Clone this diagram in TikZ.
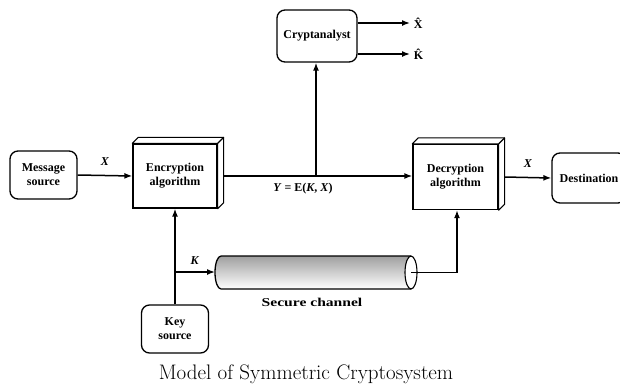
\documentclass[tikz,border=0pt]{standalone}
\usepackage{fontspec}
\newfontfamily\tms{Liberation Serif}
\usetikzlibrary{arrows.meta,calc}
\tikzset{
  lbl/.style={font=\tms\bfseries\fontsize{12}{14}\selectfont, align=center, inner sep=0pt},
  rbox/.style={draw, line width=1.3pt, rounded corners=8pt, fill=white, lbl},
  fbox/.style={draw, line width=1.3pt, fill=white, lbl},
  conn/.style={line width=1.5pt, -{Latex[length=8pt,width=6pt]}},
  wire/.style={line width=1.5pt},
}
\begin{document}
\begin{tikzpicture}[x=1pt,y=-1pt]
\useasboundingbox (0,0) rectangle (620,391);
\clip (0,0) rectangle (620,391);
\fill[white] (0,0) rectangle (620,391);

% nodes
\node[rbox, minimum width=80pt, minimum height=52pt] (crypt) at (317,36) {Cryptanalyst};
\node[rbox, minimum width=67pt, minimum height=48pt] (msg) at (43.5,175) {Message\\source};
\node[fbox, minimum width=84pt, minimum height=64pt] (enc) at (175,176) {Encryption\\algorithm};
\node[fbox, minimum width=85pt, minimum height=65pt] (dec) at (455.5,177) {Decryption\\algorithm};
\node[rbox, minimum width=74pt, minimum height=50pt] (dest) at (589,178) {Destination};
\node[rbox, minimum width=67pt, minimum height=48pt] (key) at (175,329) {Key\\source};

% 3D faces
\foreach \b in {enc,dec}{
  \draw[line width=1.1pt, fill=white, line join=round]
    (\b.north west) -- ++(6,-6) -- ($(\b.north east)+(6,-6)$) -- ($(\b.south east)+(6,-6)$) -- (\b.south east) -- (\b.north east) -- cycle;
  \draw[line width=1.1pt] (\b.north east) -- ++(6,-6);
}

% coordinates
\coordinate (j) at (316,176);
\coordinate (b) at (175,272);
\coordinate (tubeR) at (411,272.5);
\coordinate (c) at (457,272.5);
\coordinate (xh) at (410,23);
\coordinate (kh) at (410,54);

% tube (secure channel)
\shade[top color=gray!75, middle color=gray!25, bottom color=white]
  (221,256) arc[start angle=-90, end angle=-270, x radius=6, y radius=16.5]
  -- (411,289) arc[start angle=90, end angle=-90, x radius=6, y radius=16.5] -- cycle;
\draw[line width=1.3pt]
  (221,256) arc[start angle=-90, end angle=-270, x radius=6, y radius=16.5]
  (221,256) -- (411,256) (221,289) -- (411,289);
\draw[line width=1.1pt, fill=white] (tubeR) ellipse[x radius=6, y radius=16.5];
\coordinate (tubeL) at (215,272);

% connectors
\draw[conn] (msg.east) -- (enc.west) node[lbl, midway, above=9pt] {\textit{X}};
\draw[wire] ($(enc.east)+(6,0)$) -- (j);
\draw[conn] (j) -- (dec.west |- j);
\draw[conn] (j) -- (j |- crypt.south);
\draw[conn] (crypt.east |- xh) -- (xh) node[lbl, right=3pt] {\^{X}};
\draw[conn] (crypt.east |- kh) -- (kh) node[lbl, right=3pt] {\^{K}};
\draw[conn] (key.north) -- (enc.south);
\draw[conn] (b) -- (tubeL) node[lbl, midway, above=7pt] {\textit{K}};
\draw[wire] (tubeR) -- (c);
\draw[conn] (c) -- (c |- dec.south);
\draw[conn] ($(dec.east)+(6,0)$) -- (dest.west) node[lbl, midway, above=9pt] {\textit{X}};

% labels
\node[lbl] (ylbl) at (303,189) {\textit{Y} = E(\textit{K}, \textit{X})};
\node[lbl] (sec) at (312,302) {\scalebox{1.3}[1]{Secure channel}};
\node[font=\fontsize{21}{24}\selectfont, inner sep=0pt] (cap) at (306,374) {Model of Symmetric Cryptosystem};
\end{tikzpicture}
\end{document}
